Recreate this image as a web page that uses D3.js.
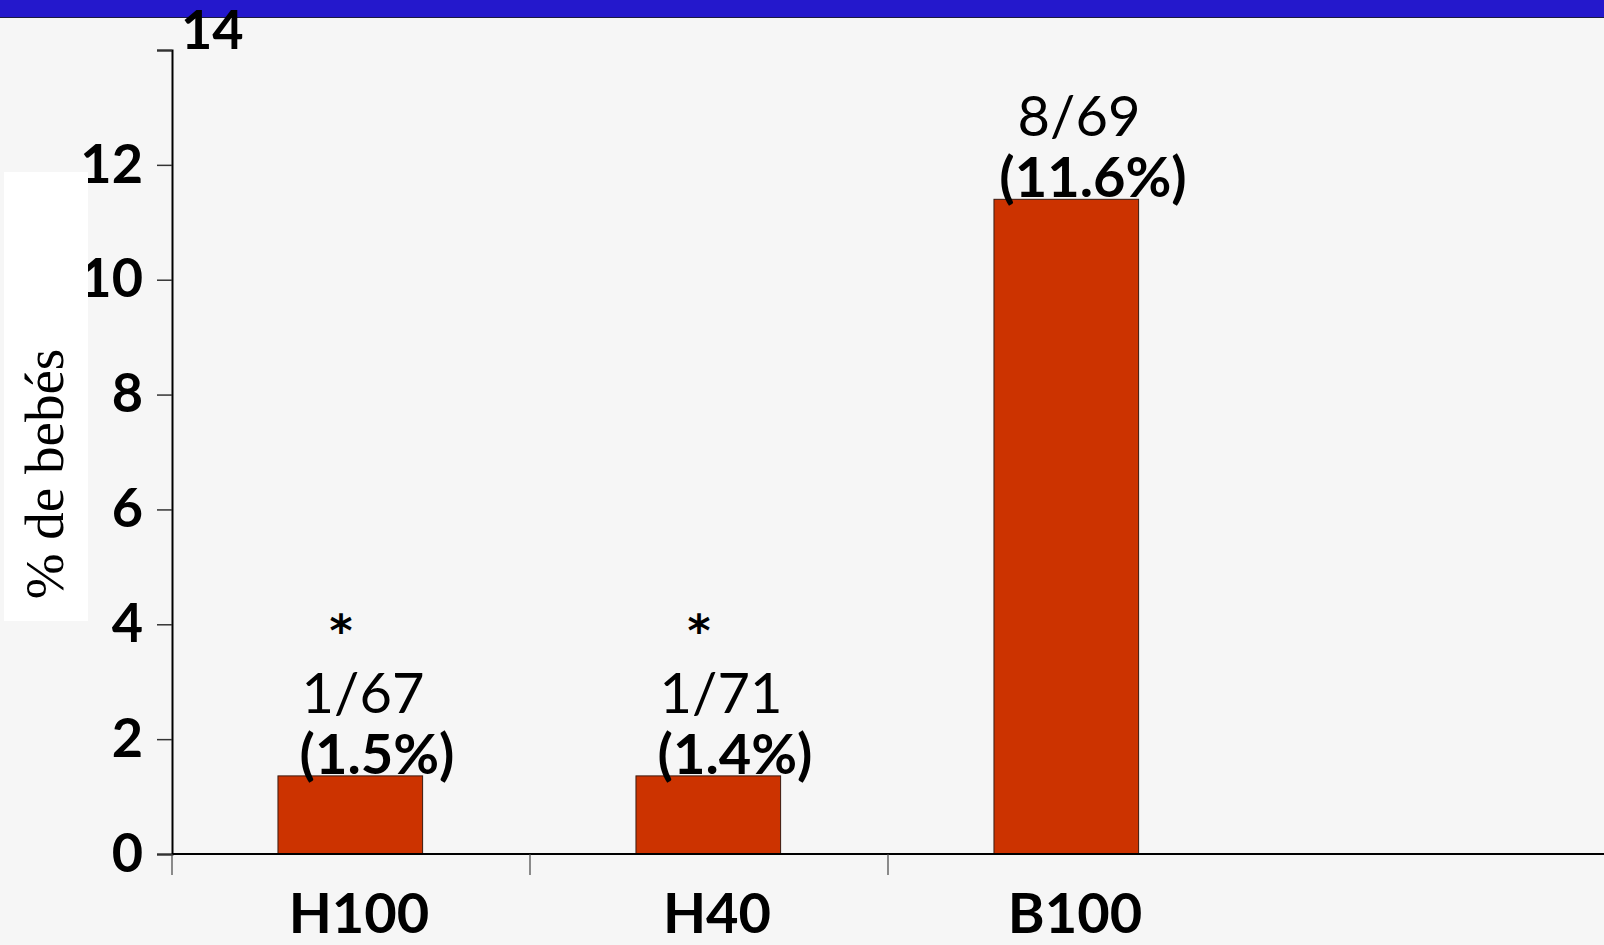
<!DOCTYPE html>
<html>
<head>
<meta charset="utf-8">
<script src="https://cdn.jsdelivr.net/npm/d3@7"></script>
<style>
  html, body { margin: 0; padding: 0; background: #f6f6f6; }
  svg { display: block; }
  .tickTxt { font-family: "Comic Sans MS", "Lato", sans-serif; font-weight: bold; font-size: 54px; fill: #000; }
  .catTxt { font-family: "Comic Sans MS", "Lato", sans-serif; font-weight: bold; font-size: 56px; fill: #000; }
  .cntTxt { font-family: "Comic Sans MS", "Lato", sans-serif; font-size: 56px; fill: #000; }
  .pctTxt { font-family: "Comic Sans MS", "Lato", sans-serif; font-weight: bold; font-size: 56px; fill: #000; }
  .starTxt { font-family: "DejaVu Sans", sans-serif; font-weight: bold; font-size: 44px; fill: #000; }
  .yTitle { font-family: "Liberation Serif", "Times New Roman", serif; font-size: 55px; fill: #000; }
</style>
</head>
<body>
<div id="chart"></div>
<script>
// data
var categories = ["H100", "H40", "B100"];
var barValues = [1.36, 1.36, 11.4];
var countLabels = ["1/67", "1/71", "8/69"];
var pctLabels = ["(1.5%)", "(1.4%)", "(11.6%)"];
var starLabels = ["*", "*", ""];
var yTicks = [0, 2, 4, 6, 8, 10, 12, 14];
var yTitle = "% de bebés";

var W = 1604, H = 945;
var margin = {top: 50, left: 172, bottom: 91};
var plotRight = W;
var bandW = 358; // width of one category slot

var svg = d3.select("#chart").append("svg")
    .attr("width", W)
    .attr("height", H);

svg.append("rect").attr("x", 0).attr("y", 0).attr("width", W).attr("height", H).attr("fill", "#f6f6f6");

// blue band on top of slide
svg.append("rect").attr("x", 0).attr("y", 0).attr("width", W).attr("height", 17).attr("fill", "#2418cc");
svg.append("line").attr("x1", 0).attr("x2", W).attr("y1", 17.5).attr("y2", 17.5)
    .attr("stroke", "#1a1a40").attr("stroke-width", 1.2);

var y = d3.scaleLinear().domain([0, 14]).range([H - margin.bottom, margin.top]);
var x = d3.scaleBand().domain(categories)
    .range([margin.left, margin.left + bandW * categories.length])
    .paddingInner(0).paddingOuter(0);

var rows = categories.map(function(c, i){
  return {cat: c, v: barValues[i], cnt: countLabels[i], pct: pctLabels[i], star: starLabels[i]};
});

// y axis
var yAxisG = svg.append("g")
    .attr("transform", "translate(" + margin.left + ",0)")
    .call(d3.axisLeft(y).tickValues(yTicks).tickSize(15).tickPadding(14).tickFormat(d3.format("d")));
yAxisG.select(".domain").attr("stroke", "#000").attr("stroke-width", 2);
yAxisG.selectAll(".tick line").attr("stroke", "#333").attr("stroke-width", 1.5);
yAxisG.selectAll(".tick text").attr("class", "tickTxt").attr("fill", null);
yAxisG.attr("font-family", null).attr("font-size", null);
// top label sits to the right of the axis, up under the blue band
yAxisG.selectAll(".tick").filter(function(d){ return d === 14; }).select("text")
    .attr("text-anchor", "start").attr("x", 9).attr("dy", 0).attr("y", -2);

// bars
svg.selectAll(".bar")
  .data(rows)
  .enter().append("rect")
  .attr("class", "bar")
  .attr("x", function(d){ return x(d.cat) + x.bandwidth() * 0.296; })
  .attr("width", x.bandwidth() * 0.404)
  .attr("y", function(d){ return y(d.v); })
  .attr("height", function(d){ return y(0) - y(d.v); })
  .attr("fill", "#cc3300")
  .attr("stroke", "#3a1a10")
  .attr("stroke-width", 1);

// x axis
svg.append("line")
  .attr("x1", margin.left).attr("x2", plotRight)
  .attr("y1", y(0)).attr("y2", y(0))
  .attr("stroke", "#000").attr("stroke-width", 2.2);
svg.append("g").selectAll("line")
  .data(categories)
  .enter().append("line")
  .attr("x1", function(d){ return x(d); })
  .attr("x2", function(d){ return x(d); })
  .attr("y1", y(0)).attr("y2", y(0) + 21)
  .attr("stroke", "#444").attr("stroke-width", 1.2);

svg.append("g").selectAll("text")
  .data(categories)
  .enter().append("text")
  .attr("class", "catTxt")
  .attr("text-anchor", "middle")
  .attr("x", function(d){ return x(d) + x.bandwidth() / 2 + 8; })
  .attr("y", y(0) + 79)
  .text(function(d){ return d; });

// annotations above bars
var cx = function(d){ return x(d.cat) + x.bandwidth() / 2; };
svg.append("g").selectAll("text")
  .data(rows).enter().append("text")
  .attr("class", "pctTxt").attr("text-anchor", "middle")
  .attr("x", function(d){ return cx(d) + 26; })
  .attr("y", function(d){ return y(d.v) - 2; })
  .text(function(d){ return d.pct; });
svg.append("g").selectAll("text")
  .data(rows).enter().append("text")
  .attr("class", "cntTxt").attr("text-anchor", "middle")
  .attr("x", function(d){ return cx(d) + 12; })
  .attr("y", function(d){ return y(d.v) - 63; })
  .text(function(d){ return d.cnt; });
svg.append("g").selectAll("text")
  .data(rows.filter(function(d){ return d.star; })).enter().append("text")
  .attr("class", "starTxt").attr("text-anchor", "middle")
  .attr("x", function(d){ return cx(d) - 10; })
  .attr("y", function(d){ return y(d.v) - 130; })
  .text(function(d){ return d.star; });

// axis title on white box (covers part of the tick labels, as on the slide)
svg.append("rect").attr("x", 4).attr("y", 172).attr("width", 84).attr("height", 449).attr("fill", "#ffffff");
svg.append("text")
  .attr("class", "yTitle")
  .attr("text-anchor", "middle")
  .attr("transform", "translate(63," + 474 + ") rotate(-90)")
  .text(yTitle);
</script>
</body>
</html>
